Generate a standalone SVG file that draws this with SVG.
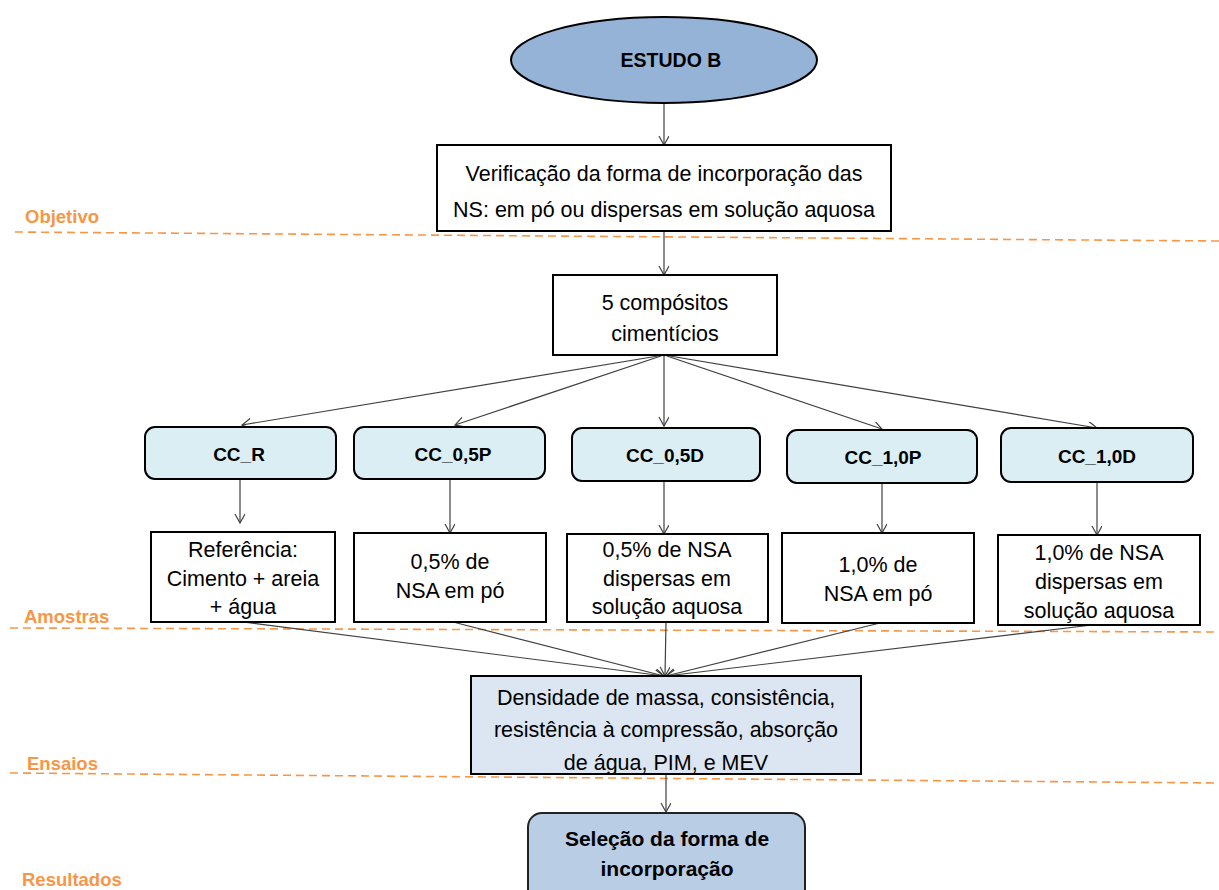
<svg xmlns="http://www.w3.org/2000/svg" width="1219" height="890" viewBox="0 0 1219 890">
<style>
.t{font-family:"Liberation Sans",Arial,sans-serif;font-size:21.5px;fill:#000;text-anchor:middle}
.b{font-weight:bold;font-size:19px}
.b2{font-weight:bold;font-size:21px}
.lab{font-family:"Liberation Sans",Arial,sans-serif;font-size:18.5px;font-weight:bold;fill:#F79646}
.dash{stroke:#F79646;stroke-width:1.6;stroke-dasharray:8,5;fill:none}
.box{fill:#fff;stroke:#000;stroke-width:2}
.cc{fill:#DBEEF4;stroke:#000;stroke-width:2}
.con line{stroke:#404040;stroke-width:1.2;marker-end:url(#arr)}
</style>
<defs>
<marker id="arr" markerWidth="12" markerHeight="12" refX="10" refY="5" orient="auto" markerUnits="userSpaceOnUse">
<path d="M1,0 L10,5 L1,10" fill="none" stroke="#404040" stroke-width="1.2"/>
</marker>
</defs>

<g id="lanes">
<line class="dash" x1="15" y1="232" x2="1219" y2="241"/>
<line class="dash" x1="10" y1="628" x2="1219" y2="632"/>
<line class="dash" x1="10" y1="773" x2="1219" y2="783"/>
<text class="lab" x="25" y="223">Objetivo</text>
<text class="lab" x="24" y="623">Amostras</text>
<text class="lab" x="27" y="770">Ensaios</text>
<text class="lab" x="22" y="886">Resultados</text>
</g>

<g class="con" id="connectors">
<line x1="664" y1="102" x2="664" y2="145"/>
<line x1="664" y1="231" x2="664" y2="275"/>
<line x1="664" y1="355" x2="242" y2="425"/>
<line x1="664" y1="355" x2="455" y2="425"/>
<line x1="664" y1="355" x2="664" y2="426"/>
<line x1="664" y1="355" x2="882" y2="429"/>
<line x1="664" y1="355" x2="1097" y2="428"/>
<line x1="240" y1="479" x2="240" y2="523"/>
<line x1="450" y1="479" x2="450" y2="533"/>
<line x1="664" y1="481" x2="664" y2="534"/>
<line x1="882" y1="483" x2="882" y2="533"/>
<line x1="1097" y1="482" x2="1097" y2="535"/>
<line x1="243" y1="622" x2="664" y2="676"/>
<line x1="453" y1="622" x2="664" y2="676"/>
<line x1="666" y1="622" x2="665" y2="676"/>
<line x1="880" y1="623" x2="666" y2="676"/>
<line x1="1092" y1="625" x2="666" y2="676"/>
<line x1="666" y1="774" x2="666" y2="812"/>
</g>

<g id="estudo">
<ellipse cx="664" cy="60" rx="153" ry="43" fill="#95B3D7" stroke="#000" stroke-width="2"/>
<text class="t b" x="671" y="67" style="font-size:19.5px">ESTUDO B</text>
</g>

<g id="objetivo">
<rect class="box" x="437" y="145" width="454" height="86"/>
<text class="t" x="664" y="181">Verificação da forma de incorporação das</text>
<text class="t" x="664" y="217">NS: em pó ou dispersas em solução aquosa</text>
</g>

<g id="compositos">
<rect class="box" x="553" y="275" width="224" height="80"/>
<text class="t" x="665" y="310">5 compósitos</text>
<text class="t" x="665" y="341">cimentícios</text>
</g>

<g id="cc_r">
<rect class="cc" x="145" y="427" width="191" height="52" rx="10"/>
<text class="t b" x="239" y="461">CC_R</text>
</g>
<g id="cc_05p">
<rect class="cc" x="354" y="427" width="191" height="52" rx="10"/>
<text class="t b" x="453" y="461">CC_0,5P</text>
</g>
<g id="cc_05d">
<rect class="cc" x="572" y="428" width="188" height="53" rx="10"/>
<text class="t b" x="665" y="462">CC_0,5D</text>
</g>
<g id="cc_10p">
<rect class="cc" x="787" y="430" width="190" height="53" rx="10"/>
<text class="t b" x="883" y="464">CC_1,0P</text>
</g>
<g id="cc_10d">
<rect class="cc" x="1001" y="428" width="192" height="54" rx="10"/>
<text class="t b" x="1097" y="463">CC_1,0D</text>
</g>

<g id="ref">
<rect class="box" x="151" y="532" width="184" height="90"/>
<text class="t" x="243" y="557">Referência:</text>
<text class="t" x="243" y="586">Cimento + areia</text>
<text class="t" x="243" y="614">+ água</text>
</g>
<g id="p05">
<rect class="box" x="354" y="533" width="192" height="89"/>
<text class="t" x="450" y="569">0,5% de</text>
<text class="t" x="450" y="598">NSA em pó</text>
</g>
<g id="d05">
<rect class="box" x="567" y="534" width="201" height="88"/>
<text class="t" x="667" y="557">0,5% de NSA</text>
<text class="t" x="667" y="586">dispersas em</text>
<text class="t" x="667" y="614">solução aquosa</text>
</g>
<g id="p10">
<rect class="box" x="782" y="533" width="192" height="90"/>
<text class="t" x="878" y="572">1,0% de</text>
<text class="t" x="878" y="601">NSA em pó</text>
</g>
<g id="d10">
<rect class="box" x="998" y="535" width="202" height="90"/>
<text class="t" x="1099" y="560">1,0% de NSA</text>
<text class="t" x="1099" y="589">dispersas em</text>
<text class="t" x="1099" y="618">solução aquosa</text>
</g>

<g id="ensaios">
<rect x="471" y="676" width="390" height="98" fill="#DCE6F2" stroke="#000" stroke-width="2"/>
<text class="t" x="666" y="705">Densidade de massa, consistência,</text>
<text class="t" x="666" y="737">resistência à compressão, absorção</text>
<text class="t" x="666" y="770">de água, PIM, e MEV</text>
</g>

<g id="resultado">
<rect x="528" y="813" width="277" height="95" rx="14" fill="#B9CDE5" stroke="#222" stroke-width="2"/>
<text class="t b2" x="667" y="846">Seleção da forma de</text>
<text class="t b2" x="667" y="876">incorporação</text>
</g>
</svg>
